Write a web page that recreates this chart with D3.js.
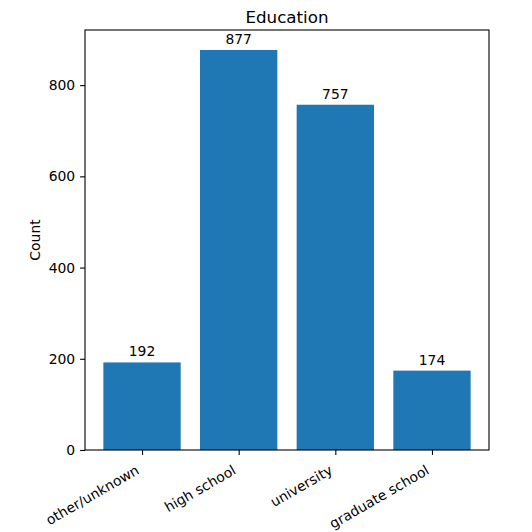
<!DOCTYPE html>
<html><head><meta charset="utf-8">
<script src="https://cdn.jsdelivr.net/npm/d3@7"></script>
<style>
html,body{margin:0;padding:0;background:#fff;}
text{font-family:"DejaVu Sans",sans-serif;fill:#000;}
</style></head>
<body>
<svg id="chart" width="532" height="532"></svg>
<script>
const categories = ["other/unknown", "high school", "university", "graduate school"];
const counts = [192, 877, 757, 174];
const yTicks = [0, 200, 400, 600, 800];
const title = "Education";
const yLabel = "Count";

const svg = d3.select("#chart");
const L = 85, R = 489, T = 30, B = 450;
const barW = 0.8;
const x = d3.scaleLinear().domain([-0.59, categories.length - 1 + 0.59]).range([L, R]);
const yMax = d3.max(counts) * 1.05;
const y = d3.scaleLinear().domain([0, yMax]).range([B, T]);

svg.append("rect").attr("x",0).attr("y",0).attr("width",532).attr("height",532).attr("fill","#fff");

// bars
svg.selectAll("rect.bar").data(counts).enter().append("rect")
  .attr("class","bar")
  .attr("x",(d,i)=>x(i-barW/2))
  .attr("width",(d,i)=>x(i+barW/2)-x(i-barW/2))
  .attr("y",d=>y(d))
  .attr("height",d=>y(0)-y(d))
  .attr("fill","#1f77b4");

// bar labels
svg.selectAll("text.bl").data(counts).enter().append("text")
  .attr("class","bl")
  .attr("x",(d,i)=>x(i))
  .attr("y",d=>y(d)-6)
  .attr("text-anchor","middle")
  .attr("font-size","13.9px")
  .text(d=>d);

// y axis
const yAxis = d3.axisLeft(y).tickValues(yTicks).tickSize(4.9).tickPadding(4.9).tickFormat(d3.format("d"));
const gy = svg.append("g").attr("transform",`translate(${L},0)`).call(yAxis);
gy.select(".domain").remove();
gy.selectAll("line").attr("stroke","#000").attr("stroke-width",1.1);
gy.selectAll("text").attr("font-size","13.9px").attr("font-family","DejaVu Sans, sans-serif").attr("fill","#000");

// x axis
const xAxis = d3.axisBottom(x).tickValues(d3.range(categories.length)).tickSize(4.9).tickFormat(()=>"");
const gx = svg.append("g").attr("transform",`translate(0,${B})`).call(xAxis);
gx.select(".domain").remove();
gx.selectAll("line").attr("stroke","#000").attr("stroke-width",1.1);

// x tick labels rotated
svg.selectAll("text.xl").data(categories).enter().append("text")
  .attr("class","xl")
  .attr("transform",(d,i)=>`translate(${x(i)-1.8},${B+23}) rotate(-30)`)
  .attr("text-anchor","end")
  .attr("font-size","13.9px")
  .text(d=>d);

// frame
svg.append("rect").attr("x",L).attr("y",T).attr("width",R-L).attr("height",B-T)
  .attr("fill","none").attr("stroke","#000").attr("stroke-width",1.1);

// title
svg.append("text").attr("x",(L+R)/2).attr("y",T-7.5).attr("text-anchor","middle")
  .attr("font-size","16.7px").text(title);

// y label
svg.append("text").attr("transform",`translate(40,${(T+B)/2}) rotate(-90)`)
  .attr("text-anchor","middle").attr("font-size","13.9px").text(yLabel);
</script>
</body></html>
